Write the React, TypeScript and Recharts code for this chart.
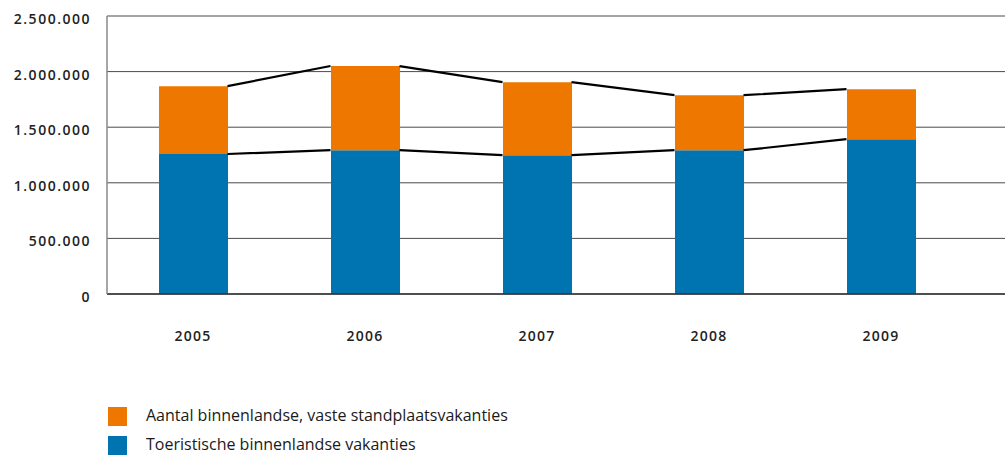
import React from 'react';
import { ComposedChart, Bar, Line, XAxis, YAxis, CartesianGrid } from 'recharts';

const years = ['2005', '2006', '2007', '2008', '2009'];
const toeristisch = [1259000, 1293000, 1248000, 1293000, 1392000];
const vasteStandplaats = [610000, 757000, 657000, 495000, 450000];
const yTicks = [0, 500000, 1000000, 1500000, 2000000, 2500000];
const legendLabels = ['Aantal binnenlandse, vaste standplaatsvakanties', 'Toeristische binnenlandse vakanties'];

const ORANGE = '#EE7700';
const BLUE = '#0074B1';
const W = 1005;
const H = 455;
const MARGIN_LEFT = 7;
const Y_WIDTH = 100;
const PAD_RIGHT = 38;
const BAR_SIZE = 69;
const BAND = (W - MARGIN_LEFT - Y_WIDTH - PAD_RIGHT) / years.length;
const HALF = BAR_SIZE / 2 / BAND;

const data = years.map((y, i) => ({ year: y, toer: toeristisch[i], vast: vasteStandplaats[i] }));

const totals = years.map((_, i) => toeristisch[i] + vasteStandplaats[i]);
const lineData: { lx: number; top: number | null; base: number | null }[] = [];
for (let i = 0; i < years.length - 1; i++) {
  lineData.push({ lx: i + 0.5 + HALF, top: totals[i], base: toeristisch[i] });
  lineData.push({ lx: i + 1.5 - HALF, top: totals[i + 1], base: toeristisch[i + 1] });
  lineData.push({ lx: i + 1.5, top: null, base: null });
}

const fmt = (v: number) => String(v).replace(/\B(?=(\d{3})+(?!\d))/g, '.');

const FONT = '"Open Sans", sans-serif';

export default function App() {
  return (
    <div style={{ position: 'absolute', left: 0, top: 0, width: W, height: H, background: '#fff' }}>
      <ComposedChart
        width={W}
        height={H}
        data={data}
        margin={{ top: 16, right: 0, left: MARGIN_LEFT, bottom: 101 }}
      >
        <CartesianGrid vertical={false} stroke="#4a4a4a" strokeWidth={1} />
        <XAxis
          dataKey="year"
          type="category"
          height={60}
          padding={{ left: 0, right: PAD_RIGHT }}
          tickLine={false}
          axisLine={{ stroke: '#333', strokeWidth: 1.5 }}
          tickMargin={31}
          tick={{ fill: '#222', fontSize: 14, fontFamily: FONT, letterSpacing: 1.2, fontWeight: 600 }}
        />
        <XAxis
          xAxisId="line"
          dataKey="lx"
          type="number"
          domain={[0, years.length]}
          allowDataOverflow
          padding={{ left: 0, right: PAD_RIGHT }}
          hide
        />
        <YAxis
          width={Y_WIDTH}
          domain={[0, 2500000]}
          ticks={yTicks}
          tickFormatter={fmt}
          tickLine={false}
          tickSize={0}
          tickMargin={16}
          axisLine={{ stroke: '#888', strokeWidth: 1.5 }}
          tick={{ fill: '#222', fontSize: 14, fontFamily: FONT, letterSpacing: 1.5, fontWeight: 600, dy: 3 }}
        />
        <Bar dataKey="toer" stackId="a" fill={BLUE} barSize={BAR_SIZE} isAnimationActive={false} />
        <Bar dataKey="vast" stackId="a" fill={ORANGE} barSize={BAR_SIZE} isAnimationActive={false} />
        <Line
          data={lineData}
          xAxisId="line"
          dataKey="top"
          type="linear"
          stroke="#000"
          strokeWidth={2.2}
          dot={false}
          activeDot={false}
          connectNulls={false}
          isAnimationActive={false}
        />
        <Line
          data={lineData}
          xAxisId="line"
          dataKey="base"
          type="linear"
          stroke="#000"
          strokeWidth={2.2}
          dot={false}
          activeDot={false}
          connectNulls={false}
          isAnimationActive={false}
        />
      </ComposedChart>
      <div style={{ position: 'absolute', left: 108, top: 407, fontFamily: FONT, fontSize: 16, color: '#1a1a1a' }}>
        {legendLabels.map((label, i) => (
          <div key={label} style={{ position: 'absolute', left: 0, top: i * 29, width: 500, height: 19 }}>
            <div style={{ position: 'absolute', left: 0, top: 0, width: 19, height: 19, background: i === 0 ? ORANGE : BLUE }} />
            <div style={{ position: 'absolute', left: 38, top: -2, whiteSpace: 'nowrap', lineHeight: '20px' }}>{label}</div>
          </div>
        ))}
      </div>
    </div>
  );
}
